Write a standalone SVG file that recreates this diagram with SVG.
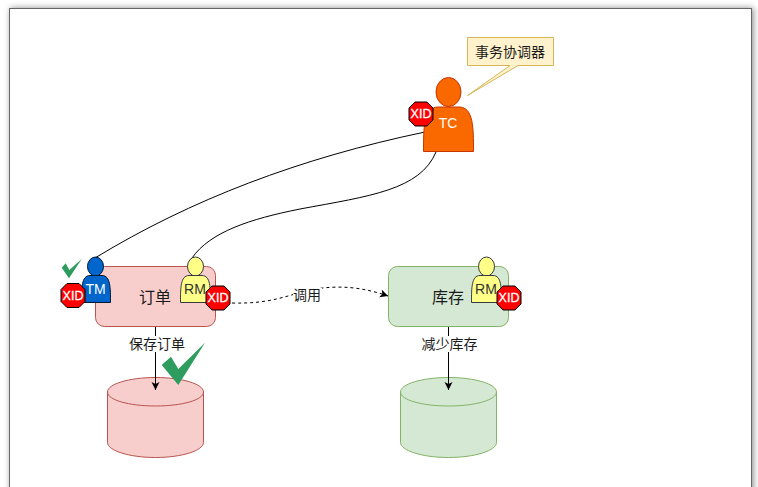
<svg xmlns="http://www.w3.org/2000/svg" width="758" height="487" viewBox="0 0 758 487">
<style>
text{font-family:"Liberation Sans","Noto Sans CJK SC",sans-serif;text-anchor:middle;dominant-baseline:central}
.lbl{font-size:14px;fill:#1a1a1a}
.big{font-size:16px;fill:#1a1a1a}
.w{font-size:14px;fill:#fff}
.x{font-size:12.500px;fill:#fff;stroke:#fff;stroke-width:.3}
.c{fill:none;stroke:#000;stroke-width:1}
.pink{fill:#f8cecc;stroke:#b85450}
.green{fill:#d5e8d4;stroke:#82b366}
.rm{fill:#ffff88;stroke:#36393d}
.tm{fill:#0066cc;stroke:#001933}
.tc{fill:#fa6800;stroke:#c73500}
.oct{fill:#ff0000;stroke:#000}
.chk{fill:#2d9c5e}
.rmt{font-size:14px;fill:#333}
</style>
<defs>
<marker id="arr" markerWidth="10" markerHeight="10" refX="8" refY="4" orient="auto" markerUnits="userSpaceOnUse"><path d="M0 0L8 4L0 8L2 4Z" fill="#000"/></marker>
<filter id="sh" x="-3%" y="-3%" width="106%" height="106%"><feDropShadow dx="1.500" dy="0" stdDeviation="3" flood-color="#000" flood-opacity=".45"/></filter>
<path id="octa" d="M-6-12H6L12-6V6L6 12H-6L-12 6V-6Z"/>
</defs>
<rect id="frame" x="9.500" y="8.500" width="742" height="500" fill="#fff" stroke="#666" filter="url(#sh)"/>
<g id="order-box"><rect class="pink" x="95.500" y="266.500" width="120" height="60" rx="9"/><text class="big" x="155" y="297">订单</text></g>
<g id="stock-box"><rect class="green" x="388.500" y="266.500" width="120" height="60" rx="9"/><text class="big" x="448" y="297">库存</text></g>
<g id="order-db"><path class="pink" d="M107.500 392C107.500 384 129 377.500 155.500 377.500S203.500 384 203.500 392V442.500C203.500 450.500 182 457.500 155.500 457.500S107.500 450.500 107.500 442.500Z"/><path class="pink" d="M107.500 392C107.500 400 129 406 155.500 406S203.500 400 203.500 392" style="fill:none"/></g>
<g id="stock-db"><path class="green" d="M400.500 392C400.500 384 422 377.500 448.500 377.500S496.500 384 496.500 392V442.500C496.500 450.500 475 457.500 448.500 457.500S400.500 450.500 400.500 442.500Z"/><path class="green" d="M400.500 392C400.500 400 422 406 448.500 406S496.500 400 496.500 392" style="fill:none"/></g>
<g id="connectors">
<path class="c" d="M425 132C300 158 190 200 95 258"/>
<path class="c" d="M436 152C420 190 370 196 300 209C250 219 210 232 192 258"/>
<path class="c" stroke-dasharray="3 3" marker-end="url(#arr)" d="M232 303C270 304 285 296 310 290C340 284 365 288 388 296"/>
<path class="c" marker-end="url(#arr)" d="M155.500 327V390"/>
<path class="c" marker-end="url(#arr)" d="M448.500 327V390"/>
<rect x="129" y="336" width="57" height="16" fill="#fff"/>
<text class="lbl" x="157" y="344">保存订单</text>
<rect x="421" y="336" width="57" height="16" fill="#fff"/>
<text class="lbl" x="449.500" y="344">减少库存</text>
<rect x="293" y="288" width="29" height="15" fill="#fff"/>
<text class="lbl" x="307" y="295">调用</text>
</g>
<g id="callout"><path fill="#fff2cc" stroke="#d6b656" d="M467.500 37.500H553.500V65.500H518L467.500 95.500L510 65.500H467.500Z"/><text class="lbl" x="510" y="52">事务协调器</text></g>
<g id="tc"><ellipse class="tc" cx="448.500" cy="92" rx="12.500" ry="14.500"/><path class="tc" d="M423.500 151.500C423.500 128 423.500 107 438 107H459C473.500 107 473.500 128 473.500 151.500Z"/><text class="w" x="448" y="123">TC</text></g>
<g id="tc-xid" transform="translate(421 114)"><use href="#octa" class="oct"/><text class="x">XID</text></g>
<g id="tm"><ellipse class="tm" cx="95.500" cy="266.500" rx="8" ry="9.500"/><path class="tm" d="M81.500 302.500C81.500 288 81.500 275.500 90 275.500H102C110.500 275.500 110.500 288 110.500 302.500Z"/><text class="w" x="95.500" y="289">TM</text></g>
<g id="tm-xid" transform="translate(73 295.500)"><use href="#octa" class="oct"/><text class="x">XID</text></g>
<g id="tm-check"><path class="chk" d="M61.700 267.700L65.700 263.300L69.300 270L81.700 259L69 278.300Z"/></g>
<g id="rm1"><ellipse class="rm" cx="195.500" cy="266.500" rx="8" ry="9.500"/><path class="rm" d="M180.500 302.500C180.500 288 180.500 275.500 189 275.500H202C210.500 275.500 210.500 288 210.500 302.500Z"/><text class="rmt" x="195" y="289">RM</text></g>
<g id="rm1-xid" transform="translate(218 298)"><use href="#octa" class="oct"/><text class="x">XID</text></g>
<g id="rm2"><ellipse class="rm" cx="486.500" cy="266.500" rx="8" ry="9.500"/><path class="rm" d="M471.500 302.500C471.500 288 471.500 275.500 480 275.500H493C501.500 275.500 501.500 288 501.500 302.500Z"/><text class="rmt" x="486" y="289">RM</text></g>
<g id="rm2-xid" transform="translate(509 298)"><use href="#octa" class="oct"/><text class="x">XID</text></g>
<g id="big-check"><path class="chk" d="M161.700 365L171 356.700L178.300 369L205 342.700L178.300 385Z"/></g>
</svg>
